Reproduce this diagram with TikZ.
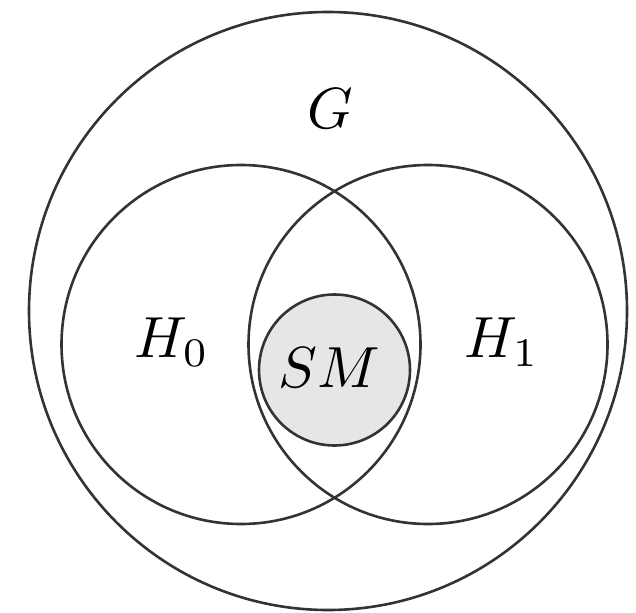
\documentclass[tikz,border=0pt]{standalone}
\definecolor{smgray}{HTML}{E6E6E6}
\definecolor{linegray}{HTML}{333333}
\begin{document}
\begin{tikzpicture}[x=1pt,y=-1pt,
  ring/.style={draw=linegray,line width=2.6pt},
  lbl/.style={scale=5.8,inner sep=0pt}]
\useasboundingbox (0,0) rectangle (636,612);
\draw[ring] (328,311) circle (299);
\draw[ring] (241,344.5) circle (179.5);
\draw[ring] (428,344.5) circle (179.5);
\draw[ring,fill=smgray] (334.5,370) circle (75.5);
\node[lbl] (G) at (330,109) {$G$};
\node[lbl] (H0) at (172,342) {$H_0$};
\node[lbl] (H1) at (502,342) {$H_1$};
\node[lbl] (SM) at (329,368) {$SM$};
\end{tikzpicture}
\end{document}
